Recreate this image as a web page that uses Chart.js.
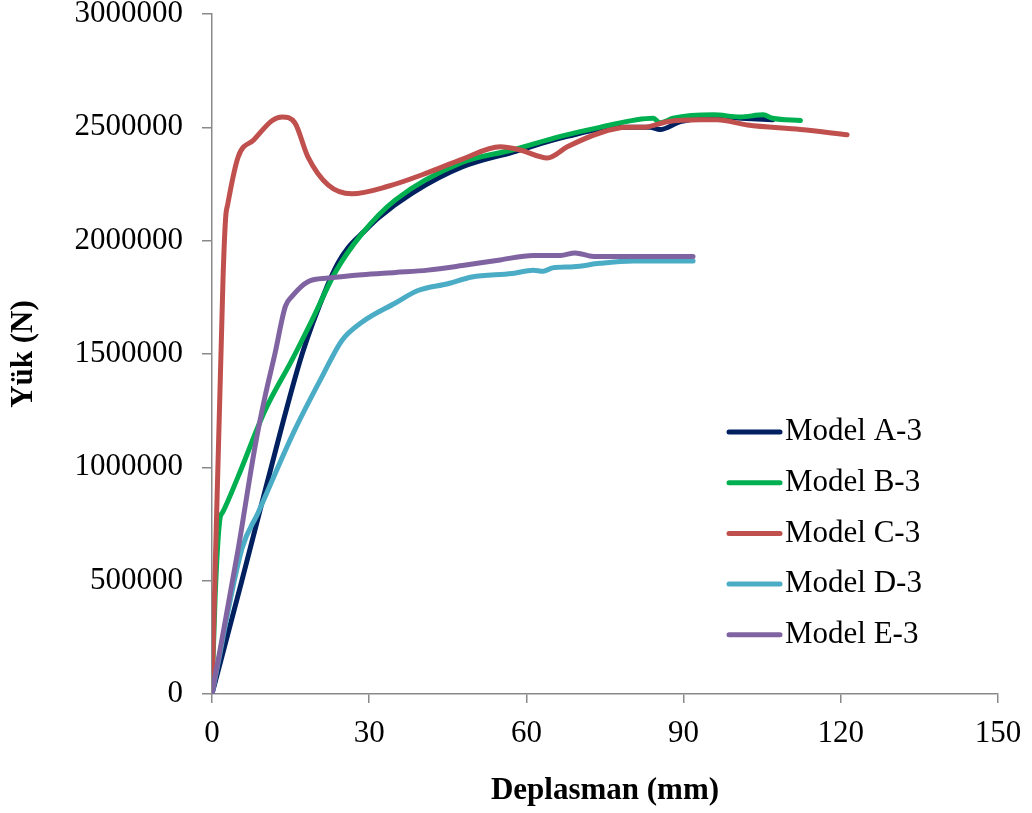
<!DOCTYPE html>
<html>
<head>
<meta charset="utf-8">
<script src="https://cdn.jsdelivr.net/npm/chart.js@4.4.1/dist/chart.umd.min.js"></script>
<style>
  html, body { margin: 0; padding: 0; background: #fff; }
  #wrap { width: 1032px; height: 813px; }
</style>
</head>
<body>
<div id="wrap"><canvas id="myChart" width="1032" height="813"></canvas></div>
<script>
// eksen değerleri
const xTicks = [0, 30, 60, 90, 120, 150];
const yTicks = [0, 500000, 1000000, 1500000, 2000000, 2500000, 3000000];

const seriesNames = ['Model A-3', 'Model B-3', 'Model C-3', 'Model D-3', 'Model E-3'];

// Model A-3
const xA = [0, 5.7, 10.5, 17.2, 22, 24, 26, 29, 31.7, 38.2, 47.7, 57.3, 67.8, 77.3, 83.6, 85.5, 89.4, 96.4, 101, 107];
const yA = [0, 500000, 930000, 1500000, 1800000, 1900000, 1970000, 2040000, 2100000, 2210000, 2325000, 2390000, 2460000, 2500000, 2500000, 2490000, 2525000, 2546000, 2540000, 2533000];

// Model B-3
const xB = [0, 0.6, 1.5, 2.0, 5, 10.1, 15.3, 19.1, 23.5, 28.6, 35, 47.7, 57.3, 66.5, 74, 84.2, 85.5, 88, 95.7, 100.8, 105.2, 107, 112.3];
const yB = [0, 430000, 770000, 800000, 960000, 1250000, 1475000, 1650000, 1860000, 2030000, 2180000, 2345000, 2400000, 2460000, 2500000, 2540000, 2520000, 2540000, 2555000, 2546000, 2555000, 2540000, 2530000];

// Model C-3
const xC = [0, 2.1, 2.6, 3.0, 5, 8, 11.5, 13.4, 15.8, 18.3, 22.2, 26.7, 33.6, 41.2, 47.8, 55, 58.8, 64, 67.8, 74, 79.2, 82.3, 86.9, 93.2, 96.4, 102.2, 112.3, 121.2];
const yC = [0, 1830000, 2100000, 2160000, 2370000, 2445000, 2530000, 2546000, 2520000, 2370000, 2245000, 2207000, 2240000, 2300000, 2360000, 2414000, 2400000, 2365000, 2414000, 2475000, 2500000, 2500000, 2525000, 2533000, 2533000, 2510000, 2490000, 2467000];

// Model D-3
const xD = [0, 5.7, 8.8, 15.8, 21, 24.8, 28.6, 35, 39.3, 45, 49.6, 57.3, 61.3, 63.2, 65, 69, 74, 80.4, 91.8];
const yD = [0, 640000, 800000, 1165000, 1400000, 1560000, 1640000, 1725000, 1780000, 1810000, 1840000, 1855000, 1870000, 1865000, 1880000, 1885000, 1900000, 1910000, 1910000];

// Model E-3
const xE = [0, 5, 8.2, 10.1, 12, 14, 15.3, 18.4, 22.2, 28.6, 35, 41.2, 47.8, 55, 61.3, 66.5, 69.3, 72.8, 91.8];
const yE = [0, 640000, 1090000, 1310000, 1500000, 1710000, 1755000, 1820000, 1835000, 1850000, 1860000, 1870000, 1890000, 1915000, 1935000, 1935000, 1946000, 1930000, 1930000];

const colors = ['#002060', '#00B050', '#C0504D', '#4BACC6', '#8064A2'];
const xs = [xA, xB, xC, xD, xE];
const ys = [yA, yB, yC, yD, yE];

const axisGray = '#898989';
const serif = "'Liberation Serif', 'Times New Roman', serif";
const fontSize = 31;

function pts(x, y) {
    return x.map((v, i) => ({ x: v, y: y[i] }));
}

// Grafiğin içindeki açıklama kutusu
const insideLegend = {
    id: 'insideLegend',
    afterDraw(chart) {
        const c = chart.ctx;
        c.save();
        c.font = fontSize + 'px ' + serif;
        c.textBaseline = 'middle';
        c.fillStyle = '#000';
        seriesNames.forEach((name, i) => {
            const y = 432 + i * 50.7;
            c.strokeStyle = colors[i];
            c.lineWidth = 5;
            c.lineCap = 'round';
            c.beginPath();
            c.moveTo(729, y);
            c.lineTo(780, y);
            c.stroke();
            c.fillText(name, 785, y);
        });
        c.restore();
    }
};

const ctx = document.getElementById('myChart').getContext('2d');

let myChart = new Chart(ctx, {
    type: 'line',
    data: {
        datasets: seriesNames.map((name, i) => ({
            label: name,
            data: pts(xs[i], ys[i]),
            borderColor: colors[i],
            backgroundColor: colors[i],
            borderWidth: 5,
            borderCapStyle: 'round',
            borderJoinStyle: 'round',
            pointRadius: 0,
            cubicInterpolationMode: 'monotone',
            fill: false,
            order: 5 - i
        }))
    },
    options: {
        responsive: false,
        animation: false,
        layout: { padding: { left: 0, right: 34, top: 14, bottom: 0 } },
        plugins: {
            legend: { display: false },
            tooltip: { enabled: false }
        },
        scales: {
            x: {
                type: 'linear',
                min: 0,
                max: 150,
                afterBuildTicks: (s) => { s.ticks = xTicks.map(v => ({ value: v })); },
                afterFit: (s) => { s.height = 119; s.paddingLeft = 0; s.paddingRight = 0; },
                border: { color: axisGray, width: 1.5 },
                grid: { drawOnChartArea: false, drawTicks: true, tickLength: 9, color: axisGray, lineWidth: 1.5 },
                ticks: {
                    color: '#000',
                    padding: 12,
                    maxRotation: 0,
                    font: { family: serif, size: fontSize },
                    callback: (v) => String(v)
                },
                title: {
                    display: true,
                    text: 'Deplasman (mm)',
                    color: '#000',
                    font: { family: serif, size: fontSize, weight: 'bold' },
                    padding: { top: 0, bottom: 3 }
                }
            },
            y: {
                type: 'linear',
                min: 0,
                max: 3000000,
                afterBuildTicks: (s) => { s.ticks = yTicks.map(v => ({ value: v })); },
                afterFit: (s) => { s.width = 212; s.paddingTop = 0; s.paddingBottom = 0; },
                border: { color: axisGray, width: 1.5 },
                grid: { drawOnChartArea: false, drawTicks: true, tickLength: 10, color: axisGray, lineWidth: 1.5 },
                ticks: {
                    color: '#000',
                    padding: 19,
                    font: { family: serif, size: fontSize },
                    callback: (v) => String(v)
                },
                title: {
                    display: true,
                    text: 'Yük (N)',
                    color: '#000',
                    font: { family: serif, size: fontSize, weight: 'bold' },
                    padding: { top: 5, bottom: 0 }
                }
            }
        }
    },
    plugins: [insideLegend]
});
</script>
</body>
</html>
